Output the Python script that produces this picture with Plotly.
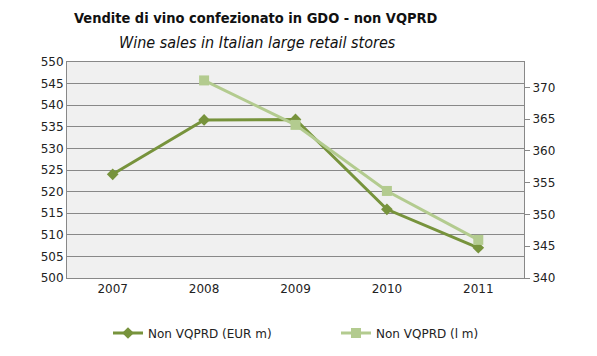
import plotly.graph_objects as go

years = ["2007", "2008", "2009", "2010", "2011"]
eur_m = [524.0, 536.6, 536.7, 515.9, 507.0]
litres_m = [None, 371.1, 364.1, 353.7, 346.0]

title_it = "Vendite di vino confezionato in GDO - non VQPRD"
title_en = "Wine sales in Italian large retail stores"
name_eur = "Non VQPRD (EUR m)"
name_l = "Non VQPRD (l m)"

dark = "#77933C"
light = "#B3CB8F"
font_fam = "DejaVu Sans"
title_fam = "DejaVu Sans Condensed"

PL, PT, PW, PH = 67, 62, 457, 216


def px_x(px):
    return (px - PL) / PW


def px_y(py):
    return 1 - (py - PT) / PH


fig = go.Figure()
fig.add_trace(go.Scatter(
    x=years, y=eur_m, name=name_eur, mode="lines+markers",
    line=dict(color=dark, width=3),
    marker=dict(symbol="diamond", size=9, color=dark),
    yaxis="y", legend="legend",
))
fig.add_trace(go.Scatter(
    x=years, y=litres_m, name=name_l, mode="lines+markers",
    line=dict(color=light, width=3),
    marker=dict(symbol="square", size=10, color=light),
    yaxis="y2", legend="legend2",
))

leg_common = dict(
    orientation="h", xanchor="left", yanchor="middle",
    font=dict(family=font_fam, size=12, color="#222"),
    itemwidth=30, bgcolor="rgba(0,0,0,0)",
)

fig.update_layout(
    width=597, height=356,
    margin=dict(l=PL, r=597 - PL - PW, t=PT, b=356 - PT - PH, autoexpand=False),
    paper_bgcolor="white",
    plot_bgcolor="#F0F0F0",
    font=dict(family=font_fam, size=12, color="#222"),
    showlegend=True,
    legend=dict(x=px_x(108), y=px_y(333), **leg_common),
    legend2=dict(x=px_x(336), y=px_y(333), **leg_common),
    xaxis=dict(
        type="category", range=[-0.5, 4.5],
        showgrid=False, showline=True, linecolor="#888", linewidth=1, mirror=True,
        ticks="", tickfont=dict(size=12, color="#222"),
        zeroline=False,
    ),
    yaxis=dict(
        range=[500, 550], dtick=5, tick0=500,
        showgrid=True, gridcolor="#888", gridwidth=1,
        showline=True, linecolor="#888", linewidth=1,
        ticks="", tickfont=dict(size=12, color="#222"), zeroline=False,
    ),
    yaxis2=dict(
        overlaying="y", side="right",
        range=[340, 374], dtick=5, tick0=340,
        showgrid=False, showline=True, linecolor="#888", linewidth=1,
        ticks="outside", ticklen=5, tickcolor="#888",
        tickfont=dict(size=12, color="#222"), zeroline=False,
    ),
)
fig.add_annotation(text="<b>" + title_it + "</b>", xref="paper", yref="paper",
                   x=px_x(256), y=px_y(18), xanchor="center", yanchor="middle",
                   showarrow=False, font=dict(family=title_fam, size=14.5, color="#111"))
fig.add_annotation(text="<i>" + title_en + "</i>", xref="paper", yref="paper",
                   x=px_x(257), y=px_y(42), xanchor="center", yanchor="middle",
                   showarrow=False, font=dict(family=title_fam, size=16, color="#111"))

fig.write_html("out.html", config={"displayModeBar": False},
               post_script="document.body.style.margin='0';")
